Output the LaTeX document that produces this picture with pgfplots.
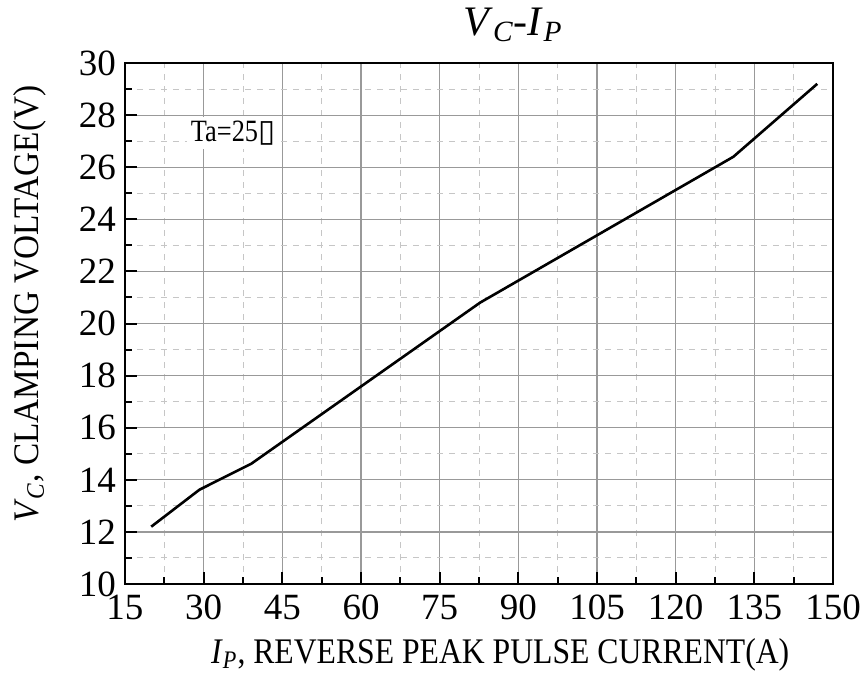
\documentclass[border=0pt]{standalone}
\usepackage{fontspec}
\setmainfont{Liberation Serif}
\newfontfamily\condx[FakeStretch=0.88]{Liberation Serif}
\newfontfamily\condy[FakeStretch=0.925]{Liberation Serif}
\newfontfamily\condt[FakeStretch=0.85]{Liberation Serif}
\newfontfamily\dejavu{DejaVu Sans}
\usepackage{pgfplots}
\pgfplotsset{compat=1.18}
\begin{document}
\begin{tikzpicture}
\useasboundingbox (-62.5pt,-51pt) rectangle (368.5pt,292pt);
\begin{axis}[
  at={(0,0)}, anchor=south west,
  width=354pt, height=260.5pt, scale only axis,
  xmin=15, xmax=150, ymin=10, ymax=30,
  xtick={15,30,...,150}, ytick={10,12,...,30},
  minor x tick num=1, minor y tick num=1,
  tick pos=left, tick align=inside,
  major tick length=6pt, minor tick length=3.5pt,
  every tick/.style={black, line width=1pt},
  axis line style={black, line width=1pt},
  grid=both,
  major grid style={gray!80, line width=0.6pt},
  minor grid style={gray!45, dashed, line width=0.5pt},
  /pgf/number format/assume math mode=true,
  ticklabel style={font=\fontsize{18.5}{20}\selectfont},
  xticklabel style={yshift=-2pt},
  yticklabel style={xshift=-1pt},
  xlabel={\textit{I}\textsubscript{\textit{P}}, REVERSE PEAK PULSE CURRENT(A)},
  ylabel={\textit{V}\textsubscript{\textit{C}}, CLAMPING VOLTAGE(V)},
  xlabel style={at={(axis description cs:0.53,-0.136)}, anchor=center, font=\condx\fontsize{18}{20}\selectfont},
  ylabel style={at={(axis description cs:-0.134,0.537)}, anchor=center, font=\condy\fontsize{18}{20}\selectfont},
  title={\textit{V}\textsubscript{\textit{C}}-\textit{I}\textsubscript{\textit{P}}},
  title style={at={(axis description cs:0.548,1.05)}, anchor=center, font=\fontsize{21}{23}\selectfont},
  clip=false,
]
\addplot[black, line width=1.3pt] coordinates {
  (20,12.2) (29.2,13.62) (39.1,14.62) (82.7,20.8) (131,26.4) (147,29.2)
};
\node[fill=white, inner sep=2pt, font=\condt\fontsize{15.5}{17}\selectfont] at (axis cs:35.6,27.3) {Ta=25{\dejavu ▯}};
\end{axis}
\end{tikzpicture}
\end{document}
